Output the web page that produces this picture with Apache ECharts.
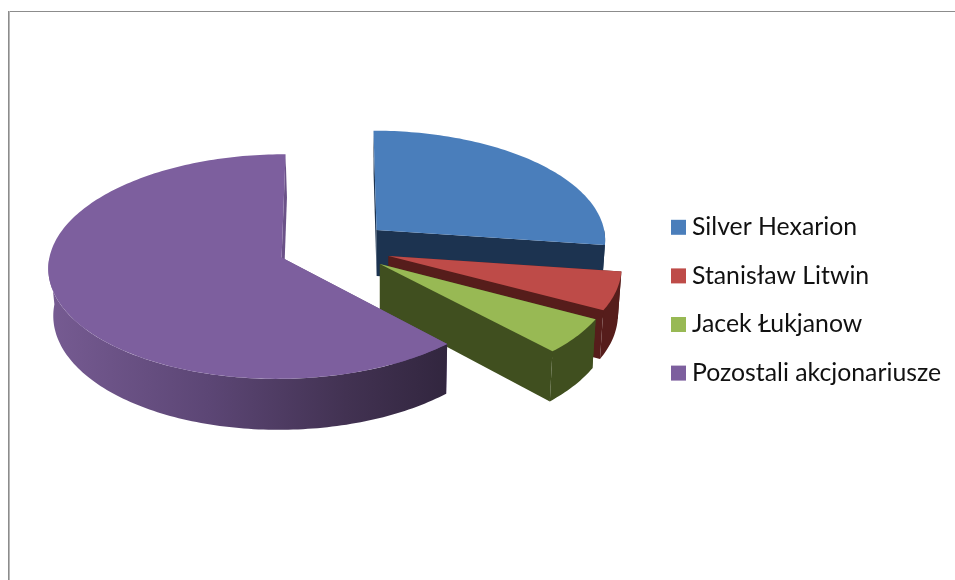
<!DOCTYPE html>
<html>
<head>
<meta charset="utf-8">
<style>html,body{margin:0;padding:0;background:#fff}#chart{width:955px;height:580px}</style>
<script src="https://cdn.jsdelivr.net/npm/echarts@6/dist/echarts.min.js"></script>
</head>
<body>
<div id="chart"></div>
<script>
// Shareholder structure
const categories = ['Silver Hexarion', 'Stanisław Litwin', 'Jacek Łukjanow', 'Pozostali akcjonariusze'];
const shares = [27.2, 5.6, 5.2, 62.0];
const topColors = ['#4a7ebb', '#be4b48', '#98b954', '#7d5f9e'];
const sideColors = ['#1c3350', '#561d1b', '#404f1f', '#6b5288'];

// Projection of the tilted, exploded pie onto the canvas
const view = {
  x0: 334.5, y0: 247.5, radius: 230.5, tilt: 110, persp: 0.08,
  depth: 46.5, vanishX: 380, converge: 0.015, explode: 0.245
};
const total = shares.reduce((a, b) => a + b, 0);

function project(X, Z, d) {
  const p = 1 / (1 - view.persp * Z);
  let sx = view.x0 + view.radius * X * p;
  const sy = view.y0 + (view.tilt * Z + d * view.depth) * p;
  sx += (view.vanishX - sx) * view.converge * d;
  return [sx, sy];
}

function sliceAngles(i) {
  let before = 0;
  for (let k = 0; k < i; k++) before += shares[k];
  return [before / total * 2 * Math.PI, (before + shares[i]) / total * 2 * Math.PI];
}

function wallFill(i) {
  if (i === 3) {
    return new echarts.graphic.LinearGradient(50, 0, 445, 0, [
      { offset: 0, color: '#765b92' },
      { offset: 0.4, color: '#5c4675' },
      { offset: 0.75, color: '#423252' },
      { offset: 1, color: '#32263f' }
    ], true);
  }
  return sideColors[i];
}

function renderSlice(i) {
  const [a0, a1] = sliceAngles(i);
  const mid = (a0 + a1) / 2;
  const ox = view.explode * Math.sin(mid);
  const oz = -view.explode * Math.cos(mid);
  const rim = (a, d) => project(ox + Math.sin(a), oz - Math.cos(a), d);
  const apex = d => project(ox, oz, d);
  const arc = (from, to, d) => {
    const pts = [];
    const n = Math.max(2, Math.ceil((to - from) / 0.02));
    for (let j = 0; j <= n; j++) pts.push(rim(from + (to - from) * j / n, d));
    return pts;
  };
  const poly = (points, fill) => ({
    type: 'polygon', shape: { points }, style: { fill }, silent: true
  });
  const children = [];
  // Cut faces of the slice
  children.push(poly([apex(0), rim(a0, 0), rim(a0, 1), apex(1)], sideColors[i]));
  children.push(poly([apex(0), rim(a1, 0), rim(a1, 1), apex(1)], sideColors[i]));
  // Outer wall, only the part turned towards the viewer
  const w0 = Math.max(a0, Math.PI / 2), w1 = Math.min(a1, 1.5 * Math.PI);
  if (w1 > w0) {
    children.push(poly(arc(w0, w1, 0).concat(arc(w0, w1, 1).reverse()), wallFill(i)));
  }
  // Top face
  children.push(poly([apex(0)].concat(arc(a0, a1, 0)), topColors[i]));
  return { type: 'group', children };
}

const chart = echarts.init(document.getElementById('chart'), null, { renderer: 'canvas' });
chart.setOption({
  animation: false,
  backgroundColor: '#ffffff',
  legend: {
    orient: 'vertical',
    left: 666,
    top: 208,
    itemWidth: 15,
    itemHeight: 15,
    itemGap: 20,
    icon: 'rect',
    selectedMode: false,
    data: categories,
    textStyle: { fontFamily: 'Lato', fontSize: 24.8, color: '#111111', lineHeight: 28.6, padding: [0, 0, 0, 1] }
  },
  graphic: [
    { type: 'rect', shape: { x: 8, y: 11, width: 947, height: 1 }, style: { fill: '#8c8c8c' }, silent: true },
    { type: 'rect', shape: { x: 8, y: 11, width: 1, height: 569 }, style: { fill: '#8c8c8c' }, silent: true },
    { type: 'rect', shape: { x: 9, y: 11, width: 1, height: 569 }, style: { fill: '#b8b8b8' }, silent: true }
  ],
  series: categories.map((name, i) => ({
    type: 'custom',
    name,
    coordinateSystem: 'none',
    itemStyle: { color: topColors[i] },
    data: [[shares[i]]],
    renderItem: () => renderSlice(i),
    silent: true
  }))
});
</script>
</body>
</html>
